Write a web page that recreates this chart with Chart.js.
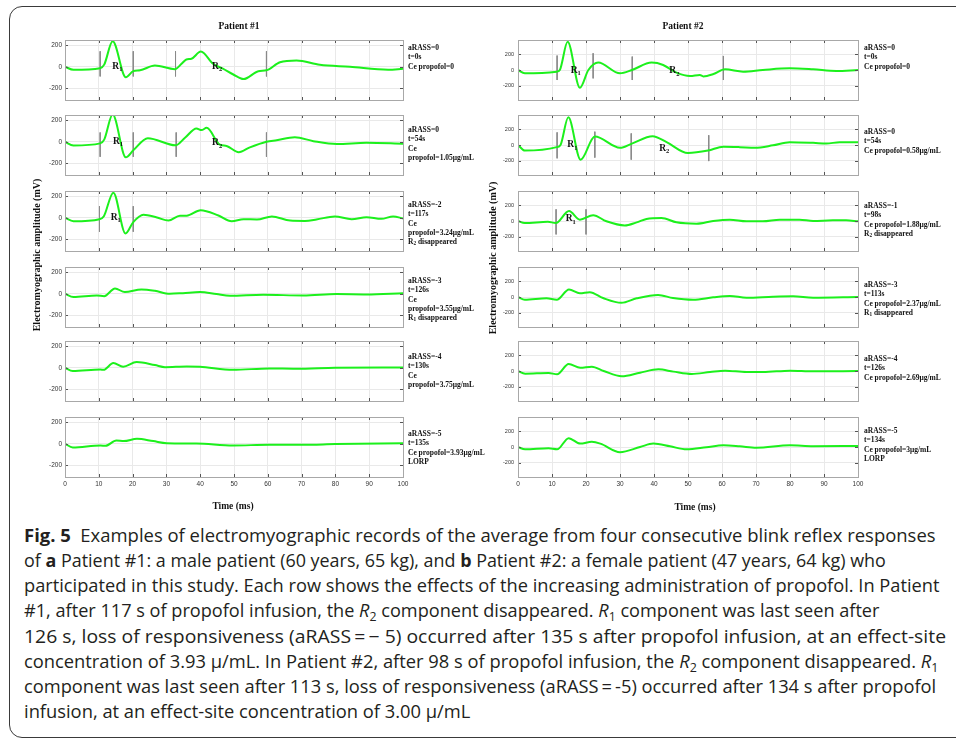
<!DOCTYPE html>
<html>
<head>
<meta charset="utf-8">
<script src="https://cdn.jsdelivr.net/npm/chart.js@4.4.1/dist/chart.umd.min.js"></script>
<style>
body { margin: 0; background: #fff; width: 956px; height: 740px; overflow: hidden; position: relative; }
.frame { position: absolute; left: 9px; top: 6px; width: 990px; height: 730px; border: 1px solid #3a3a3a; border-radius: 13px; }
canvas { position: absolute; }
.serif { position: absolute; font-family: "Liberation Serif", "Times New Roman", serif; font-weight: bold; color: #111; white-space: nowrap; }
.serif sub { font-size: 70%; vertical-align: -1px; line-height: 0; }
.cap { position: absolute; left: 24px; font-family: "Open Sans", sans-serif; font-size: 17.5px; line-height: 20px; color: #231f20; white-space: nowrap; transform-origin: 0 0; }
.cap sub { font-size: 68%; vertical-align: -4px; line-height: 0; }
</style>
</head>
<body>
<div class="frame"></div>
<script>
// time axis (ms)
var timeTicks = [0, 10, 20, 30, 40, 50, 60, 70, 80, 90, 100];
var ampTicks = [-200, 0, 200];

// Patient #1 traces (time ms, amplitude)
var p1t1 = [0, 2.5, 10.4, 11.6, 14.1, 18, 20.2, 22.2, 26.6, 32.5, 34.5, 35.9, 37.4, 40.2, 43.8, 46.7, 49.8, 52.8, 57.2, 59.6, 63.6, 68.5, 75.4, 84.3, 95.6, 100];
var p1v1 = [0, -28, -13, 20, 238, -97, -41, -33, 12, -22, 28, 68, 75, 142, 28, -17, -72, -115, -41, -33, 43, 59, 19, 0, -28, -18];
var p1t2 = [0, 2.5, 10.4, 11.6, 14.1, 18, 20.2, 24.5, 32.7, 35.5, 38.9, 40.4, 41.9, 45.8, 47.8, 51.4, 54.7, 59.6, 62.6, 68, 73.5, 80.4, 89.2, 100];
var p1v2 = [0, -34, -15, 20, 255, -145, -80, 33, -33, 38, 124, 109, 130, -27, -39, -97, -52, 0, 15, 42, 6, -21, -9, -18];
var p1t3 = [0, 2.5, 10.2, 11.5, 14.3, 17.9, 20.2, 23.2, 27.2, 30.6, 34, 36, 40.1, 45.4, 49.3, 52.8, 56.8, 61.2, 66.6, 71, 74.4, 79.8, 84.8, 89.2, 93.6, 97.1, 100];
var p1v3 = [0, -32, -13, 15, 234, -146, -40, 28, 3, -26, 20, 20, 70, 21, -32, -13, -16, 13, -26, -29, -16, 13, -13, 6, -10, 13, -6];
var p1t4 = [0, 2.5, 9.4, 11.6, 14.8, 17.7, 22.6, 26.6, 31, 34.9, 39.9, 44.8, 48.8, 58.6, 70.5, 80.3, 89.2, 100];
var p1v4 = [0, -31, -16, -22, 50, 16, 41, 28, 0, 6, 16, -3, -19, -9, -16, -3, -6, 6];
var p1t5 = [0, 2.3, 10.5, 11.4, 14.3, 17.2, 21.2, 26.6, 29.6, 36, 39.9, 49.7, 60.4, 68.3, 80, 100];
var p1v5 = [0, -31, -16, -19, 44, 9, 53, 25, 6, 12, 9, -19, -6, -9, 0, 3];
var p1t6 = [0, 2.3, 10.5, 12, 15.2, 17.4, 21.3, 26.1, 30.1, 38.9, 49.7, 60.4, 70.2, 80, 100];
var p1v6 = [0, -34, -16, -19, 31, 25, 47, 25, 6, 3, -16, -9, -9, -3, 6];

// Patient #2 traces
var p2t1 = [0, 2, 11.4, 12.3, 14.6, 18.2, 20.7, 23.6, 30, 33.5, 39.3, 42.7, 46.6, 50.6, 53.5, 54.5, 57.5, 60.9, 66.2, 72, 79.9, 86.8, 93.6, 100];
var p2v1 = [0, -42, -21, 0, 357, -225, 0, 94, -42, 0, 94, 64, -34, -77, -64, -81, -51, 8, -21, 0, 21, 8, -13, 0];
var p2t2 = [0, 2, 11.4, 12.5, 14.8, 18.4, 22.6, 30, 33.5, 39.6, 43.7, 50, 55.9, 60.4, 65.2, 69.7, 75, 79.9, 86.8, 90.7, 94.6, 100];
var p2v2 = [0, -71, -27, 0, 351, -186, 107, -36, 18, 111, 36, -102, -71, -22, -27, -36, -4, 36, 27, 18, 36, 36];
var p2t3 = [0, 2, 8.8, 11.1, 15, 18.2, 22.1, 26, 31.4, 34.9, 37.8, 42.2, 46.6, 52.5, 57.4, 62.3, 67.2, 72, 77, 82.8, 86.8, 92.6, 96.5, 100];
var p2v3 = [0, -26, -9, -26, 126, 17, 74, -4, -57, -17, 26, 39, -17, -35, 0, 17, -4, -4, 17, 17, 0, 9, 9, -4];
var p2t4 = [0, 2, 8.4, 11.4, 15, 18.2, 21.1, 25, 30.4, 34.9, 41.2, 45.6, 51.5, 57.4, 62.3, 67.2, 75, 80.9, 86.8, 100];
var p2v4 = [0, -35, -17, -35, 96, 48, 61, -13, -74, -17, 26, -13, -35, -4, 13, -9, 4, 9, -9, 0];
var p2t5 = [0, 2.1, 9, 11.5, 14.9, 18.3, 21.7, 25.2, 30.5, 35.9, 41.3, 45.7, 51.1, 56.5, 60.9, 67.2, 72.1, 80, 86.8, 100];
var p2v5 = [0, -34, -25, -42, 88, 42, 55, 0, -67, -21, 21, -8, -38, -13, 4, -13, -13, 4, -4, 0];
var p2t6 = [0, 2.1, 9, 11.5, 14.9, 18.3, 21.7, 24.2, 30, 35.9, 39.8, 44.7, 49.6, 55.4, 60.4, 65.2, 70.1, 80, 86.8, 100];
var p2v6 = [0, -30, -17, -30, 112, 43, 65, 43, -65, 0, 43, 9, -30, -4, 21, 9, -9, 21, 9, 13];

// latency markers (time, top, bottom amplitude)
var p1m1 = [10.4, 20.2, 32.7, 59.6], p1m1hi = [145, 145, 145, 145], p1m1lo = [-90, -90, -90, -90];
var p1m2 = [10.4, 20.2, 32.9, 59.6], p1m2hi = [87, 87, 87, 87], p1m2lo = [-140, -140, -140, -140];
var p1m3 = [10.2, 20.2], p1m3hi = [108, 108], p1m3lo = [-130, -130];
var p2m1 = [11.5, 22.1, 33.6, 60.4], p2m1hi = [183, 212, 170, 178], p2m1lo = [-127, -106, -127, -127];
var p2m2 = [11.5, 22.6, 33.3, 56.1], p2m2hi = [160, 169, 147, 124], p2m2lo = [-169, -160, -186, -204];
var p2m3 = [11.2, 20], p2m3hi = [148, 148], p2m3lo = [-170, -170];

// component labels [name, subscript, time, amplitude]
var p1r1 = [['R', '1', 15.5, 0], ['R', '2', 45, 0]];
var p1r2 = [['R', '1', 15.7, 0], ['R', '2', 45, -10]];
var p1r3 = [['R', '1', 15, 0]];
var p2r1 = [['R', '1', 17, -8], ['R', '2', 46, -13]];
var p2r2 = [['R', '1', 16, 0], ['R', '2', 43, -40]];
var p2r3 = [['R', '1', 15.5, 26]];

// side notes
var p1notes = [
  ['aRASS=0', 't=0s', 'Ce propofol=0'],
  ['aRASS=0', 't=54s', 'Ce', 'propofol=1.05μg/mL'],
  ['aRASS=-2', 't=117s', 'Ce', 'propofol=3.24μg/mL', 'R<sub>2</sub> disappeared'],
  ['aRASS=-3', 't=126s', 'Ce', 'propofol=3.55μg/mL', 'R<sub>1</sub> disappeared'],
  ['aRASS=-4', 't=130s', 'Ce', 'propofol=3.75μg/mL'],
  ['aRASS=-5', 't=135s', 'Ce propofol=3.93μg/mL', 'LORP']
];
var p2notes = [
  ['aRASS=0', 't=0s', 'Ce propofol=0'],
  ['aRASS=0', 't=54s', 'Ce propofol=0.58μg/mL'],
  ['aRASS=-1', 't=98s', 'Ce propofol=1.88μg/mL', 'R<sub>2</sub> disappeared'],
  ['aRASS=-3', 't=113s', 'Ce propofol=2.37μg/mL', 'R<sub>1</sub> disappeared'],
  ['aRASS=-4', 't=126s', 'Ce propofol=2.69μg/mL'],
  ['aRASS=-5', 't=134s', 'Ce propofol=3μg/mL', 'LORP']
];

var captionLines = [
  '<b>Fig. 5</b>&nbsp; Examples of electromyographic records of the average from four consecutive blink reflex responses',
  'of <b>a</b> Patient #1: a male patient (60 years, 65 kg), and <b>b</b> Patient #2: a female patient (47 years, 64 kg) who',
  'participated in this study. Each row shows the effects of the increasing administration of propofol. In Patient',
  '#1, after 117 s of propofol infusion, the <i>R</i><sub>2</sub> component disappeared. <i>R</i><sub>1</sub> component was last seen after',
  '126 s, loss of responsiveness (aRASS\u2009=\u2009\u2212 5) occurred after 135 s after propofol infusion, at an effect-site',
  'concentration of 3.93 μ/mL. In Patient #2, after 98 s of propofol infusion, the <i>R</i><sub>2</sub> component disappeared. <i>R</i><sub>1</sub>',
  'component was last seen after 113 s, loss of responsiveness (aRASS\u2009=\u2009-5) occurred after 134 s after propofol',
  'infusion, at an effect-site concentration of 3.00 μ/mL'
];
var captionRight = [936, 886, 940, 880, 946, 938, 936, 470];

// layout
var GREEN = '#1cf01c';
var COL_LEFT = [65, 518], COL_W = [338, 340];
var ROW_TOP = [40, 115, 191, 267, 341, 417], PLOT_H = 60;
var Y_RANGE = [[-310, 250], [-380, 380]];
var YAXIS_W = 30, PAD = 10, XAXIS_H = 14;

function el(cls, html, css) {
  var d = document.createElement('div');
  d.className = cls;
  d.innerHTML = html;
  Object.assign(d.style, css);
  document.body.appendChild(d);
  return d;
}

var framePlugin = {
  id: 'frame',
  afterDatasetsDraw: function(chart, args, opts) {
    var ctx = chart.ctx, a = chart.chartArea, x = chart.scales.x, y = chart.scales.y;
    ctx.save();
    ctx.strokeStyle = '#555';
    ctx.lineWidth = 1;
    ctx.beginPath();
    timeTicks.forEach(function(v) {
      var px = Math.round(x.getPixelForValue(v)) + 0.5;
      ctx.moveTo(px, a.top); ctx.lineTo(px, a.top + 3);
      ctx.moveTo(px, a.bottom); ctx.lineTo(px, a.bottom - 3);
    });
    ampTicks.forEach(function(v) {
      var py = Math.round(y.getPixelForValue(v)) + 0.5;
      ctx.moveTo(a.left, py); ctx.lineTo(a.left + 3, py);
      ctx.moveTo(a.right, py); ctx.lineTo(a.right - 3, py);
    });
    ctx.stroke();
    ctx.strokeStyle = '#a8a8a8';
    ctx.strokeRect(Math.round(a.left) + 0.5, Math.round(a.top) + 0.5, Math.round(a.right - a.left), Math.round(a.bottom - a.top));
    // component labels
    ctx.fillStyle = '#111';
    ctx.textBaseline = 'middle';
    (opts.labels || []).forEach(function(l) {
      var px = x.getPixelForValue(l[2]), py = y.getPixelForValue(l[3]);
      ctx.font = 'bold 9.5px "Liberation Serif"';
      var w1 = ctx.measureText(l[0]).width;
      ctx.font = 'bold 6.5px "Liberation Serif"';
      var w2 = ctx.measureText(l[1]).width;
      var x0 = px - (w1 + w2) / 2;
      ctx.font = 'bold 9.5px "Liberation Serif"';
      ctx.fillText(l[0], x0, py);
      ctx.font = 'bold 6.5px "Liberation Serif"';
      ctx.fillText(l[1], x0 + w1, py + 3);
    });
    ctx.restore();
  }
};

function makePanel(col, row, times, amps, mT, mHi, mLo, labels) {
  var bottom = row === 5;
  var cv = document.createElement('canvas');
  cv.width = YAXIS_W + COL_W[col] + PAD;
  cv.height = PAD + PLOT_H + (bottom ? XAXIS_H : 0) + PAD;
  cv.style.left = (COL_LEFT[col] - YAXIS_W) + 'px';
  cv.style.top = (ROW_TOP[row] - PAD) + 'px';
  document.body.appendChild(cv);

  var markers = [];
  (mT || []).forEach(function(t, i) {
    markers.push({x: t, y: mHi[i]}, {x: t, y: mLo[i]}, {x: t, y: null});
  });

  var chart = new Chart(cv, {
    type: 'line',
    data: {
      datasets: [{
        data: times.map(function(t, i) { return {x: t, y: amps[i]}; }),
        borderColor: GREEN,
        borderWidth: 2,
        pointRadius: 0,
        cubicInterpolationMode: 'monotone',
        order: 0
      }, {
        data: markers,
        borderColor: '#8a8a8a',
        borderWidth: 1,
        pointRadius: 0,
        spanGaps: false,
        tension: 0,
        order: 1
      }]
    },
    options: {
      responsive: false,
      animation: false,
      devicePixelRatio: 1,
      layout: { padding: { left: 0, right: PAD, top: PAD, bottom: PAD } },
      plugins: { legend: { display: false }, tooltip: { enabled: false }, frame: { labels: labels } },
      scales: {
        x: {
          type: 'linear', min: 0, max: 100,
          afterBuildTicks: function(s) { s.ticks = timeTicks.map(function(v) { return {value: v}; }); },
          afterFit: function(s) { s.height = bottom ? XAXIS_H : 0; },
          grid: { color: '#e9e9e9', drawTicks: false },
          border: { display: false },
          ticks: { display: bottom, autoSkip: false, maxRotation: 0, padding: 3, color: '#333',
                   font: { family: 'Liberation Sans', size: 6.5 } }
        },
        y: {
          min: Y_RANGE[col][0], max: Y_RANGE[col][1],
          afterBuildTicks: function(s) { s.ticks = ampTicks.map(function(v) { return {value: v}; }); },
          afterFit: function(s) { s.width = YAXIS_W; },
          grid: { color: '#e9e9e9', drawTicks: false },
          border: { display: false },
          ticks: { padding: col ? 4 : 3, color: '#333',
                   font: { family: 'Liberation Sans', size: col ? 5.5 : 6.5 } }
        }
      }
    },
    plugins: [framePlugin]
  });
  // align plot box to its place on the page
  var a = chart.chartArea;
  cv.style.left = (COL_LEFT[col] - a.left) + 'px';
  cv.style.top = (ROW_TOP[row] - a.top) + 'px';
}

makePanel(0, 0, p1t1, p1v1, p1m1, p1m1hi, p1m1lo, p1r1);
makePanel(0, 1, p1t2, p1v2, p1m2, p1m2hi, p1m2lo, p1r2);
makePanel(0, 2, p1t3, p1v3, p1m3, p1m3hi, p1m3lo, p1r3);
makePanel(0, 3, p1t4, p1v4);
makePanel(0, 4, p1t5, p1v5);
makePanel(0, 5, p1t6, p1v6);
makePanel(1, 0, p2t1, p2v1, p2m1, p2m1hi, p2m1lo, p2r1);
makePanel(1, 1, p2t2, p2v2, p2m2, p2m2hi, p2m2lo, p2r2);
makePanel(1, 2, p2t3, p2v3, p2m3, p2m3hi, p2m3lo, p2r3);
makePanel(1, 3, p2t4, p2v4);
makePanel(1, 4, p2t5, p2v5);
makePanel(1, 5, p2t6, p2v6);

// side notes
var noteTop = [[48, 130, 205, 281, 357, 434], [48, 132, 206, 285, 359, 431]];
var noteLeft = [408, 864], noteStep = 9.3;
[p1notes, p2notes].forEach(function(notes, c) {
  notes.forEach(function(lines, r) {
    lines.forEach(function(txt, i) {
      el('serif', txt, { left: noteLeft[c] + 'px', top: (noteTop[c][r] + i * noteStep - 5) + 'px',
                         fontSize: '7.5px', lineHeight: '10px' });
    });
  });
});

// titles
el('serif', 'Patient #1', { left: '184px', width: '110px', textAlign: 'center', top: '21px', fontSize: '9.5px' });
el('serif', 'Patient #2', { left: '628px', width: '110px', textAlign: 'center', top: '21px', fontSize: '9.5px' });
el('serif', 'Time (ms)', { left: '178px', width: '110px', textAlign: 'center', top: '501px', fontSize: '9.5px' });
el('serif', 'Time (ms)', { left: '640px', width: '110px', textAlign: 'center', top: '502px', fontSize: '9.5px' });
el('serif', 'Electromyographic amplitude (mV)', { left: '-63px', width: '200px', height: '12px', textAlign: 'center',
   top: '249px', fontSize: '10px', lineHeight: '12px', transform: 'rotate(-90deg)' });
el('serif', 'Electromyographic amplitude (mV)', { left: '393px', width: '200px', height: '12px', textAlign: 'center',
   top: '252px', fontSize: '10px', lineHeight: '12px', transform: 'rotate(-90deg)' });

// caption
captionLines.forEach(function(html, i) {
  var d = el('cap', html, { top: (541.5 + i * 25.2 - 16.8) + 'px' });
  var w = d.scrollWidth;
  d.style.transform = 'scaleX(' + ((captionRight[i] - 24) / w) + ')';
});
</script>
</body>
</html>
